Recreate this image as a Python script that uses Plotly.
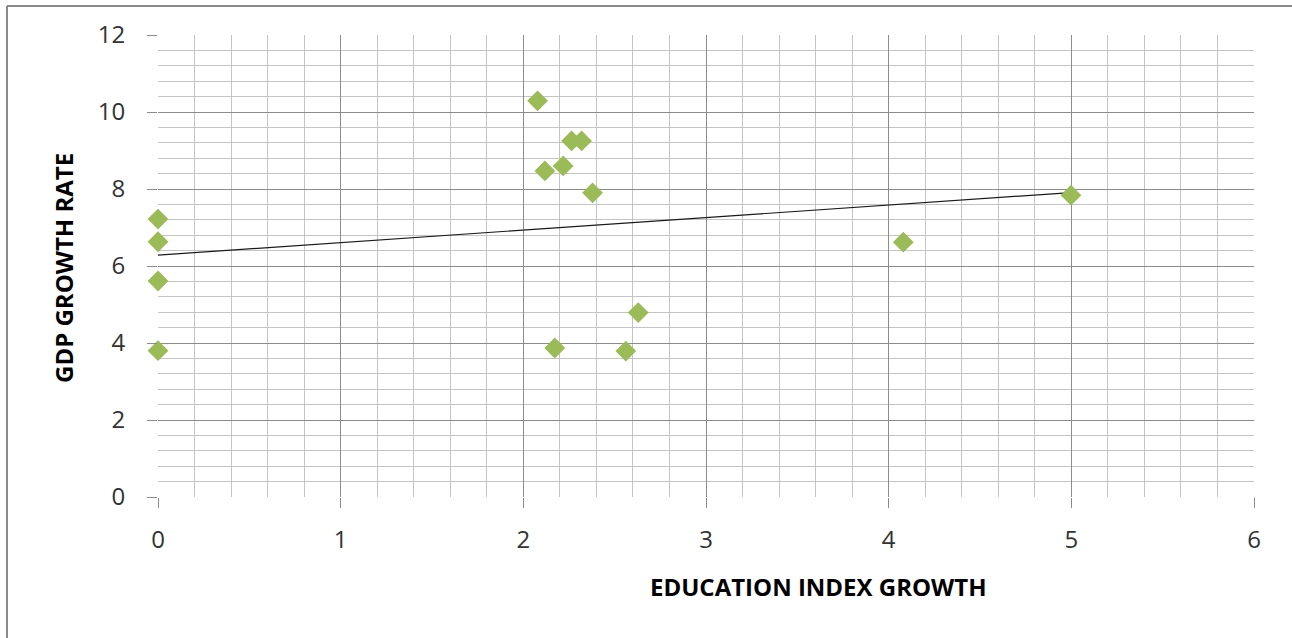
import numpy as np
import plotly.graph_objects as go

# Education index growth (x) vs GDP growth rate (y)
education_index_growth = [0.0, 0.0, 0.0, 0.0, 2.078, 2.118, 2.218, 2.264, 2.319,
                          2.379, 2.172, 2.561, 2.629, 4.080, 4.998]
gdp_growth_rate = [7.22, 6.63, 5.61, 3.80, 10.29, 8.47, 8.60, 9.25, 9.25,
                   7.90, 3.87, 3.79, 4.79, 6.62, 7.84]

x_ticks = [0, 1, 2, 3, 4, 5, 6]
y_ticks = [0, 2, 4, 6, 8, 10, 12]

x_title = "EDUCATION INDEX GROWTH"
y_title = "GDP GROWTH RATE"

# Linear trend line over the range of the data
slope, intercept = np.polyfit(education_index_growth, gdp_growth_rate, 1)
trend_x = np.array([min(education_index_growth), max(education_index_growth)])
trend_y = slope * trend_x + intercept

W, H = 1292, 638
ML, MR, MT, MB = 158, 38, 35, 141
PW, PH = W - ML - MR, H - MT - MB


def px_x(p):
    return (p - ML) / PW


def px_y(p):
    return (H - MB - p) / PH


MAJOR = "#8c8c8c"
MINOR = "#c4c4c4"
FONT = "'Open Sans', Lato, sans-serif"

fig = go.Figure()

fig.add_trace(go.Scatter(
    x=trend_x, y=trend_y, mode="lines",
    line=dict(color="#1a1a1a", width=1.2),
    hoverinfo="skip", showlegend=False,
))

fig.add_trace(go.Scatter(
    x=education_index_growth, y=gdp_growth_rate, mode="markers",
    marker=dict(symbol="diamond", size=16, color="#9bbb59",
                line=dict(width=0)),
    cliponaxis=False, showlegend=False,
))

axis_common = dict(
    showgrid=True, gridcolor=MAJOR, gridwidth=1,
    zeroline=False, showline=False,
    ticks="outside", ticklen=10, tickcolor=MAJOR, tickwidth=1,
    tickfont=dict(family=FONT, size=24, color="#333333"),
)

fig.update_xaxes(
    range=[0, 6], tickvals=x_ticks, ticktext=[str(v) for v in x_ticks],
    minor=dict(dtick=0.2, tick0=0, showgrid=True, gridcolor=MINOR, gridwidth=1),
    ticklabelstandoff=11,
    **axis_common,
)
fig.update_yaxes(
    range=[0, 12], tickvals=y_ticks, ticktext=[str(v) for v in y_ticks],
    minor=dict(dtick=0.4, tick0=0, showgrid=True, gridcolor=MINOR, gridwidth=1),
    ticklabelstandoff=17,
    **axis_common,
)

annotations = [
    dict(text=f"<b>{x_title}</b>", x=px_x(818), y=px_y(586),
         xref="paper", yref="paper", showarrow=False,
         xanchor="center", yanchor="middle",
         font=dict(family=FONT, size=24, color="#000000")),
    dict(text=f"<b>{y_title}</b>", x=px_x(63), y=px_y(268),
         xref="paper", yref="paper", showarrow=False, textangle=-90,
         xanchor="center", yanchor="middle",
         font=dict(family=FONT, size=24, color="#000000")),
]

shapes = [
    dict(type="line", xref="paper", yref="paper",
         x0=px_x(7), x1=px_x(7), y0=px_y(6), y1=px_y(H + 10),
         line=dict(color="#8a8a8a", width=2)),
    dict(type="line", xref="paper", yref="paper",
         x0=px_x(7), x1=px_x(W + 10), y0=px_y(6), y1=px_y(6),
         line=dict(color="#8a8a8a", width=2)),
]

fig.update_layout(
    width=W, height=H,
    margin=dict(l=ML, r=MR, t=MT, b=MB),
    paper_bgcolor="white", plot_bgcolor="white",
    annotations=annotations, shapes=shapes,
    showlegend=False,
)

fig.write_html("out.html")
